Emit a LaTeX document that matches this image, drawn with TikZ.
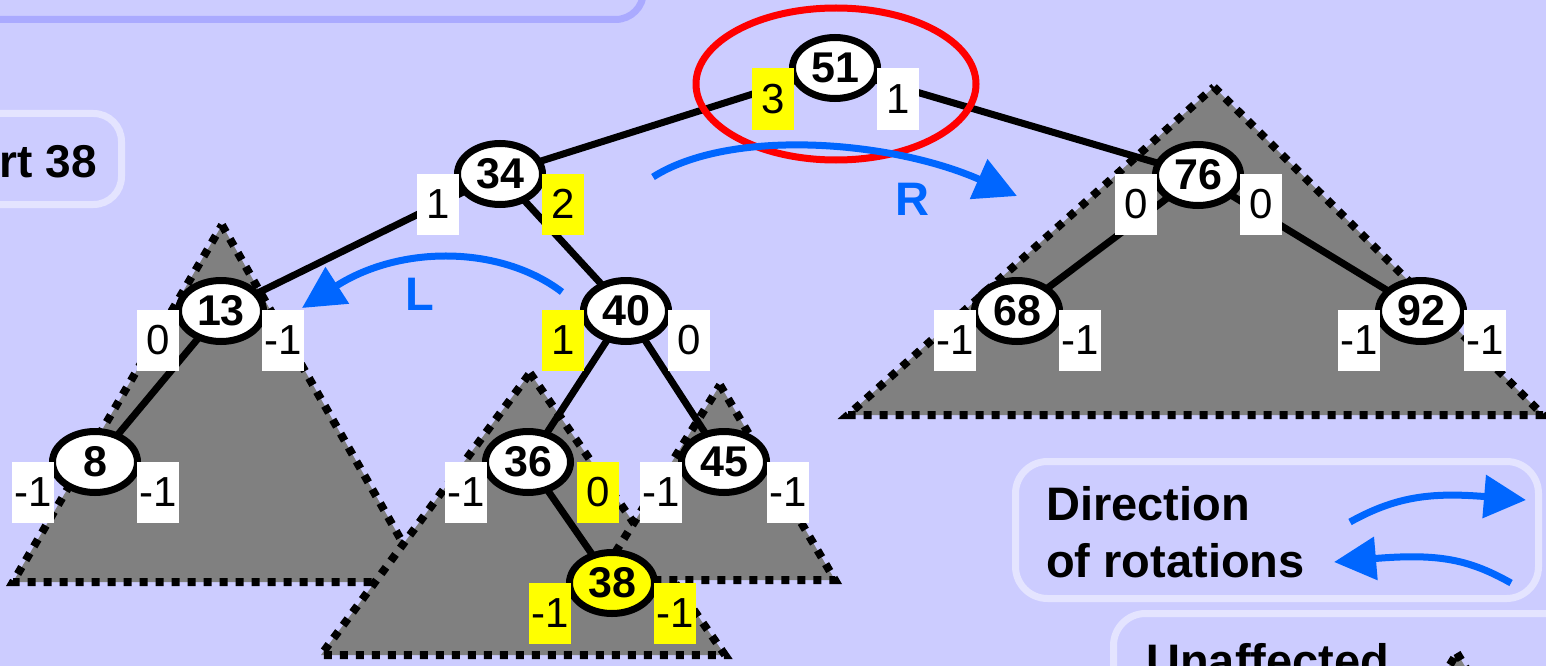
\documentclass[tikz,border=0pt]{standalone}
\usepackage{fontspec}
\setmainfont{Liberation Sans}
\usetikzlibrary{shapes.geometric,arrows.meta}
\definecolor{bg}{RGB}{204,204,255}
\definecolor{boxdark}{RGB}{170,170,255}
\definecolor{boxlight}{RGB}{228,228,255}
\definecolor{rotblue}{RGB}{0,102,255}
\definecolor{hl}{RGB}{255,255,0}
\definecolor{tri}{RGB}{128,128,128}
\begin{document}
\begin{tikzpicture}[x=1pt,y=-1pt,
  treenode/.style={ellipse, draw=black, line width=7pt, fill=white,
    minimum width=85pt, minimum height=61pt, inner sep=0pt,
    font=\fontsize{43}{50}\selectfont\bfseries},
  hlnode/.style={treenode, fill=hl},
  bal/.style={rectangle, fill=white, minimum width=42pt, minimum height=61pt,
    inner sep=0pt, font=\fontsize{42}{50}\selectfont},
  hlbal/.style={bal, fill=hl},
  treeedge/.style={draw=black, line width=7pt},
  subtree/.style={fill=tri, draw=black, line width=8pt, dash pattern=on 8pt off 8pt},
  rot/.style={draw=rotblue, line width=7pt, -{Triangle[length=42pt,width=42pt]}},
  rotlabel/.style={text=rotblue, font=\fontsize{47}{56}\selectfont\bfseries, inner sep=0pt},
  legendbox/.style={draw=boxlight, line width=7pt, rounded corners=32pt},
  legendtext/.style={font=\fontsize{47}{56}\selectfont\bfseries, inner sep=0pt, anchor=base west},
]
\useasboundingbox (0,0) rectangle (1546,666);
\clip (0,0) rectangle (1546,666);
\fill[bg] (0,0) rectangle (1546,666);

% boxes
\draw[draw=boxdark, line width=7pt, rounded corners=28pt] (-60,-60) rectangle (643.5,19.5);
\draw[draw=boxlight, line width=7pt, rounded corners=28pt] (-60,113.5) rectangle (121.5,204.5);
\node[anchor=base east, inner sep=0pt, font=\fontsize{46}{55}\selectfont\bfseries] (title) at (97,177) {rt 38};
\draw[legendbox] (1015.5,461.5) rectangle (1538.5,598.5);
\draw[legendbox] (1113.5,613.5) rectangle (1600,760);

% subtrees
\draw[subtree] (222,225) -- (425,582) -- (13,582) -- cycle;
\draw[subtree] (530,373) -- (725,655) -- (321,655) -- cycle;
\draw[subtree] (720,385) -- (835,580) -- (598,580) -- cycle;
\draw[subtree] (1214,87) -- (1543,415) -- (848,415) -- cycle;
\draw[subtree] (1457,653) -- (1500,725) -- (1414,725) -- cycle;

% nodes (coordinates)
\coordinate (p51) at (835,68);
\coordinate (p34) at (500,174);
\coordinate (p40) at (626,311);
\coordinate (p13) at (221,311);
\coordinate (p8) at (95,462);
\coordinate (p36) at (528,462);
\coordinate (p45) at (724,462);
\coordinate (p38) at (612,583);
\coordinate (p76) at (1198,175);
\coordinate (p68) at (1017,311);
\coordinate (p92) at (1421,311);

% edges
\draw[treeedge] (p51) -- (p34);
\draw[treeedge] (p51) -- (p76);
\draw[treeedge] (p34) -- (p13);
\draw[treeedge] (p34) -- (p40);
\draw[treeedge] (p13) -- (p8);
\draw[treeedge] (p40) -- (p36);
\draw[treeedge] (p40) -- (p45);
\draw[treeedge] (p36) -- (p38);
\draw[treeedge] (p76) -- (p68);
\draw[treeedge] (p76) -- (p92);

% tree nodes
\node[treenode] (n51) at (p51) {51};
\node[treenode] (n34) at (p34) {34};
\node[treenode] (n40) at (p40) {40};
\node[treenode] (n13) at (p13) {13};
\node[treenode] (n8) at (p8) {8};
\node[treenode] (n36) at (p36) {36};
\node[treenode] (n45) at (p45) {45};
\node[hlnode] (n38) at (p38) {38};
\node[treenode] (n76) at (p76) {76};
\node[treenode] (n68) at (p68) {68};
\node[treenode] (n92) at (p92) {92};

% balance labels
\node[hlbal] (b51l) at (773,99) {3};
\node[bal] (b51r) at (898,99) {1};
\node[bal] (b34l) at (438,204) {1};
\node[hlbal] (b34r) at (563,204) {2};
\node[hlbal] (b40l) at (563,340) {1};
\node[bal] (b40r) at (689,340) {0};
\node[bal] (b13l) at (158,340) {0};
\node[bal] (b13r) at (283,340) {-1};
\node[bal] (b8l) at (33,492) {-1};
\node[bal] (b8r) at (158,492) {-1};
\node[bal] (b36l) at (466,492) {-1};
\node[hlbal] (b36r) at (598,492) {0};
\node[bal] (b45l) at (661,492) {-1};
\node[bal] (b45r) at (788,492) {-1};
\node[hlbal] (b38l) at (550,613) {-1};
\node[hlbal] (b38r) at (675,613) {-1};
\node[bal] (b76l) at (1136,204) {0};
\node[bal] (b76r) at (1261,204) {0};
\node[bal] (b68l) at (955,340) {-1};
\node[bal] (b68r) at (1080,340) {-1};
\node[bal] (b92l) at (1359,340) {-1};
\node[bal] (b92r) at (1485,340) {-1};

% red highlight
\node[ellipse, draw=red, line width=7pt, minimum width=280pt, minimum height=152pt, inner sep=0pt] (focus) at (836,84) {};

% rotation arrows
\coordinate (rs) at (653,177);
\coordinate (re) at (1017,196);
\draw[rot] (rs) .. controls (730,128) and (890,140) .. (re);
\node[rotlabel] (rlab) at (912,199) {R};
\coordinate (ls) at (562,292);
\coordinate (le) at (302,308);
\draw[rot] (ls) .. controls (500,245) and (400,245) .. (le);
\node[rotlabel] (llab) at (420,294) {L};

% legend
\node[legendtext] (leg1) at (1046,520) {Direction};
\node[legendtext] (leg2) at (1046,577) {of rotations};
\coordinate (ua) at (1350,522);
\coordinate (ub) at (1526,500);
\draw[rot] (ua) .. controls (1395,497) and (1430,492) .. (ub);
\coordinate (la) at (1511,583);
\coordinate (lb) at (1334,562);
\draw[rot] (la) .. controls (1470,560) and (1440,553) .. (lb);
\node[legendtext] (leg3) at (1146,677) {Unaffected};
\end{tikzpicture}
\end{document}
